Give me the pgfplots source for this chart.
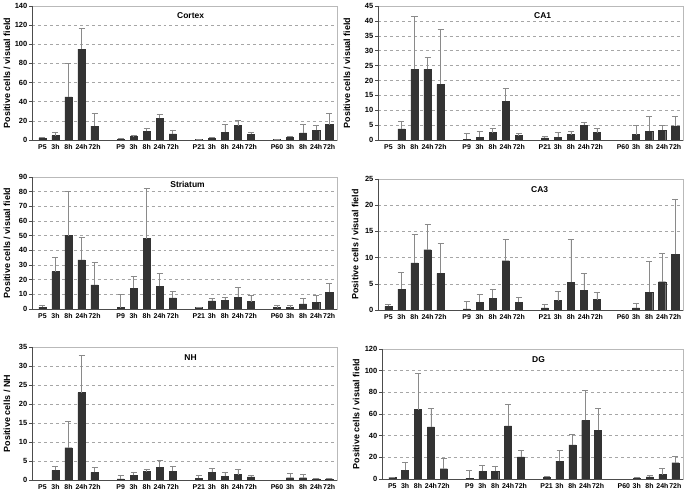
\documentclass[border=0pt]{standalone}
\usepackage{pgfplots}
\pgfplotsset{compat=1.18}
\usepackage{pgfplotstable}
\usepackage{fontspec}
\setmainfont{Liberation Sans}
\definecolor{barc}{HTML}{333333}
\definecolor{errc}{HTML}{8A8A8A}

\pgfplotstableread{
x y e
0 2 0.8
1 4.5 3
2 45 35
3 95 22
4 14.5 13
6 1 1.2
7 3.5 1.5
8 9 3.5
9 22.5 4
10 6.5 4
12 0.5 0.3
13 2 1
14 8 8
15 15 5.5
16 6 2
18 0.5 0.2
19 3 1
20 7.5 8.5
21 10 5
22 16 12
}\cortex
\pgfplotstableread{
x y e
1 3.7 2.5
2 23.7 17.8
3 23.7 4
4 18.7 18.5
6 0.3 1.9
7 1 1.8
8 2.5 1.5
9 13 4.3
10 1.5 0.7
12 0.7 0.4
13 1 1.4
14 1.8 1
15 5 0.8
16 2.5 1.3
19 1.8 3.2
20 3 5
21 3.3 1.7
22 4.7 3.2
}\caa
\pgfplotstableread{
x y e
0 1.2 1
1 25.5 9.5
2 50 30.5
3 33.5 15.5
4 16.5 15
6 1 9
7 14 8
8 48 34
9 15.5 9
10 7.5 4.5
12 1 0.1
13 5.5 1.5
14 6 2
15 8 7
16 5 4.5
18 1 1.2
19 1 1.2
20 3.5 3.5
21 4.5 5
22 11.5 6
}\striatum
\pgfplotstableread{
x y e
0 0.7 0.4
1 4 3.1
2 9 5.4
3 11.5 4.9
4 7 5.7
6 0.2 1.5
7 1.5 1.5
8 2.2 1.7
9 9.4 4
10 1.5 1
12 0.4 0.7
13 1.8 1.8
14 5.3 8.1
15 3.8 3.2
16 2 1.3
19 0.4 0.9
20 3.4 5.9
21 5.4 5.4
22 10.6 10.6
}\cac
\pgfplotstableread{
x y e
1 2.5 1
2 8.5 7
3 23 9.8
4 2 1.3
6 0.3 0.8
7 1.2 0.9
8 2.2 0.7
9 3.3 1.9
10 2.3 1.2
12 0.5 0.6
13 2 1.1
14 1 1.1
15 1.4 1.3
16 0.8 0.3
19 0.6 1.2
20 0.6 0.8
21 0.3 0.1
22 0.3 0.1
}\nh
\pgfplotstableread{
x y e
0 1.5 0.3
1 8 7
2 64 33.5
3 48 17.5
4 9.5 10
6 0.5 7.5
7 7 6
8 7 5
9 49 20
10 20.5 5.5
12 1.5 1
13 16.5 9.5
14 31.5 9.5
15 54 27.5
16 45 20
19 0.5 1
20 2 1
21 4 6
22 15 6
}\dg

\pgfplotsset{
  panel/.style={
    scale only axis, width=305bp, height=134bp,
    anchor=south west,
    xmin=-0.8, xmax=22.6, ymin=0,
    xtick={0,1,2,3,4,6,7,8,9,10,12,13,14,15,16,18,19,20,21,22},
    xticklabels={P5,3h,8h,24h,72h,P9,3h,8h,24h,72h,P21,3h,8h,24h,72h,P60,3h,8h,24h,72h},
    x tick label style={font=\fontsize{7}{8}\selectfont\bfseries, inner sep=1.5pt},
    y tick label style={font=\fontsize{7.5}{8}\selectfont\bfseries, inner sep=1.5pt},
    /pgf/number format/assume math mode=true,
    major x tick style={draw=none},
    major y tick style={draw=black!70, line width=0.5bp},
    tick align=outside, major tick length=3bp,
    xtick pos=bottom, ytick pos=left,
    ymajorgrids, grid style={dashed, gray!70, line width=0.5bp},
    axis line style={gray!55, line width=0.6bp},
    ylabel style={font=\fontsize{9}{10}\selectfont\bfseries, anchor=center},
    after end axis/.code={\draw[black!70, line width=0.7bp] (rel axis cs:0,1) -- (rel axis cs:0,0) -- (rel axis cs:1,0);},
  },
  bars/.style={ybar, bar width=0.55, fill=barc, draw=barc,
    error bars/.cd, y dir=plus, y explicit,
    error bar style={errc, line width=0.7bp},
    error mark options={rotate=90, errc, mark size=3bp, line width=0.7bp}},
}

\begin{document}
\begin{tikzpicture}
\path[use as bounding box] (0,0) rectangle (685bp,494bp);
% Cortex
\begin{axis}[panel, at={(32bp,354bp)}, ymax=140, ytick={0,20,...,140},
  ylabel={Positive cells / visual field},
  ylabel style={at={(axis description cs:-0.082,0.5)}}]
\addplot[bars] table[x=x,y=y,y error plus=e] {\cortex};
\node[font=\fontsize{8.5}{9}\selectfont\bfseries] at (rel axis cs:0.52,0.925) {Cortex};
\end{axis}
% CA1
\begin{axis}[panel, at={(378bp,354bp)}, ymax=45, ytick={0,5,...,45},
  ylabel={Positive cells / visual field},
  ylabel style={at={(axis description cs:-0.102,0.5)}}]
\addplot[bars] table[x=x,y=y,y error plus=e] {\caa};
\node[font=\fontsize{8.5}{9}\selectfont\bfseries] at (rel axis cs:0.54,0.93) {CA1};
\end{axis}
% Striatum
\begin{axis}[panel, at={(32bp,185bp)}, height=132bp, ymax=90, ytick={0,10,...,90},
  ylabel={Positive cells / visual field},
  ylabel style={at={(axis description cs:-0.082,0.5)}}]
\addplot[bars] table[x=x,y=y,y error plus=e] {\striatum};
\node[font=\fontsize{8.5}{9}\selectfont\bfseries] at (rel axis cs:0.51,0.94) {Striatum};
\end{axis}
% CA3
\begin{axis}[panel, at={(378bp,184bp)}, height=131bp, ymax=25, ytick={0,5,...,25},
  ylabel={Positive cells / visual field},
  ylabel style={at={(axis description cs:-0.075,0.5)}}]
\addplot[bars] table[x=x,y=y,y error plus=e] {\cac};
\node[font=\fontsize{8.5}{9}\selectfont\bfseries] at (rel axis cs:0.53,0.92) {CA3};
\end{axis}
% NH
\begin{axis}[panel, at={(32bp,14bp)}, height=133bp, ymax=35, ytick={0,5,...,35},
  ylabel={Positive cells / NH},
  ylabel style={at={(axis description cs:-0.082,0.5)}}]
\addplot[bars] table[x=x,y=y,y error plus=e] {\nh};
\node[font=\fontsize{8.5}{9}\selectfont\bfseries] at (rel axis cs:0.52,0.92) {NH};
\end{axis}
% DG
\begin{axis}[panel, at={(382bp,15bp)}, width=301bp, height=130bp, ymax=120, ytick={0,20,...,120},
  ylabel={Positive cells / visual field},
  ylabel style={at={(axis description cs:-0.086,0.5)}}]
\addplot[bars] table[x=x,y=y,y error plus=e] {\dg};
\node[font=\fontsize{8.5}{9}\selectfont\bfseries] at (rel axis cs:0.52,0.915) {DG};
\end{axis}
\end{tikzpicture}
\end{document}
